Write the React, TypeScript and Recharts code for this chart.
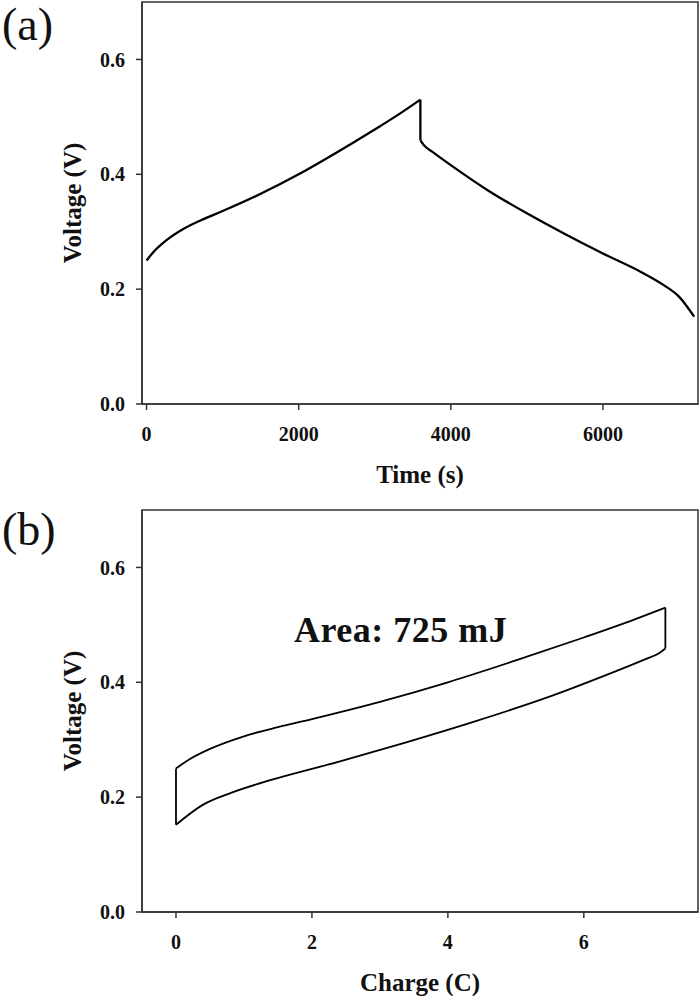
import React from "react";
import {
  LineChart,
  Line,
  XAxis,
  YAxis,
  ReferenceArea,
} from "recharts";

// (a) galvanostatic charge / discharge
const chargeTime = [0, 100, 250, 500, 750, 1000, 1500, 2000, 2500, 3000, 3300, 3600];
const chargeVolt = [0.25, 0.266, 0.284, 0.306, 0.322, 0.336, 0.366, 0.4, 0.438, 0.478, 0.503, 0.53];
const dischargeTime = [3600, 3650, 3750, 4000, 4500, 5000, 5500, 6000, 6500, 6800, 7000, 7200];
const dischargeVolt = [0.459, 0.45, 0.44, 0.416, 0.371, 0.332, 0.296, 0.262, 0.23, 0.207, 0.187, 0.152];

// (b) voltage vs charge loop (both branches listed by increasing charge)
const upperCharge = [0, 0.2, 0.5, 1.0, 1.5, 2.0, 3.0, 4.0, 5.0, 6.0, 6.6, 7.2];
const upperVolt = [0.25, 0.266, 0.284, 0.306, 0.322, 0.336, 0.366, 0.4, 0.438, 0.478, 0.503, 0.53];
const lowerCharge = [0, 0.4, 0.8, 1.4, 2.4, 3.4, 4.4, 5.4, 6.4, 6.9, 7.1, 7.2];
const lowerVolt = [0.152, 0.187, 0.207, 0.23, 0.262, 0.296, 0.332, 0.371, 0.416, 0.44, 0.45, 0.459];

const voltTicks = [0, 0.2, 0.4, 0.6];
const timeTicks = [0, 2000, 4000, 6000];
const chargeTicks = [0, 2, 4, 6];

const timeDomain: [number, number] = [-60, 7250];
const chargeDomain: [number, number] = [-0.5, 7.68];
const voltDomain: [number, number] = [0, 0.7];

const pairs = (xs: number[], ys: number[]) => xs.map((x, i) => ({ x, v: ys[i] }));

const chargeA = pairs(chargeTime, chargeVolt);
const dischargeA = pairs(dischargeTime, dischargeVolt);
const dropA = [chargeA[chargeA.length - 1], dischargeA[0]];

const upperB = pairs(upperCharge, upperVolt);
const lowerB = pairs(lowerCharge, lowerVolt);
const rightEdgeB = [upperB[upperB.length - 1], lowerB[lowerB.length - 1]];
const leftEdgeB = [lowerB[0], upperB[0]];

const serif = "'Liberation Serif', 'Times New Roman', serif";
const axisColor = "#333";
const tickStyle = { fontFamily: serif, fontWeight: "bold", fontSize: 20, fill: "#111" };
const titleStyle = { fontFamily: serif, fontWeight: "bold", fontSize: 25, fill: "#111" };

const panelTag: React.CSSProperties = {
  position: "absolute",
  left: 2,
  fontFamily: serif,
  fontSize: 46,
  lineHeight: 1,
  color: "#111",
};

const Frame = ({ xd }: { xd: [number, number] }) => (
  <ReferenceArea
    x1={xd[0]}
    x2={xd[1]}
    y1={voltDomain[0]}
    y2={voltDomain[1]}
    fill="none"
    stroke={axisColor}
    strokeWidth={1.5}
    ifOverflow="visible"
  />
);

const App: React.FC = () => {
  return (
    <div style={{ position: "absolute", left: 0, top: 0, width: 700, height: 996, background: "#fff" }}>
      <div style={{ position: "absolute", left: 0, top: 0 }}>
        <LineChart width={700} height={500} margin={{ top: 2, right: 2, bottom: 0, left: 0 }}>
          <ReferenceArea
            x1={timeDomain[0]}
            x2={timeDomain[1]}
            y1={voltDomain[0]}
            y2={voltDomain[1]}
            fill="none"
            stroke={axisColor}
            strokeWidth={1.5}
            ifOverflow="visible"
          />
          <XAxis
            type="number"
            dataKey="x"
            domain={timeDomain}
            allowDataOverflow
            ticks={timeTicks}
            height={96}
            tickSize={6}
            tickMargin={17}
            stroke={axisColor}
            strokeWidth={1.5}
            tick={tickStyle}
            label={{ value: "Time (s)", position: "center", dy: 22, style: titleStyle }}
          />
          <YAxis
            type="number"
            dataKey="v"
            domain={voltDomain}
            allowDataOverflow
            ticks={voltTicks}
            tickFormatter={(v: number) => v.toFixed(1)}
            width={142}
            tickSize={6}
            tickMargin={11}
            stroke={axisColor}
            strokeWidth={1.5}
            tick={tickStyle}
            label={{ value: "Voltage (V)", angle: -90, position: "center", dx: 1, style: titleStyle }}
          />
          <Line data={chargeA} type="monotone" dataKey="v" stroke="#000" strokeWidth={2.3} dot={false} isAnimationActive={false} />
          <Line data={dropA} type="linear" dataKey="v" stroke="#000" strokeWidth={2.3} dot={false} isAnimationActive={false} />
          <Line data={dischargeA} type="monotone" dataKey="v" stroke="#000" strokeWidth={2.3} dot={false} isAnimationActive={false} />
        </LineChart>
      </div>

      <div style={{ position: "absolute", left: 0, top: 500 }}>
        <LineChart width={700} height={496} margin={{ top: 10, right: 2, bottom: 0, left: 0 }}>
          <ReferenceArea
            x1={chargeDomain[0]}
            x2={chargeDomain[1]}
            y1={voltDomain[0]}
            y2={voltDomain[1]}
            fill="none"
            stroke={axisColor}
            strokeWidth={1.5}
            ifOverflow="visible"
          />
          <XAxis
            type="number"
            dataKey="x"
            domain={chargeDomain}
            allowDataOverflow
            ticks={chargeTicks}
            height={84}
            tickSize={6}
            tickMargin={17}
            stroke={axisColor}
            strokeWidth={1.5}
            tick={tickStyle}
            label={{ value: "Charge (C)", position: "center", dy: 28, style: titleStyle }}
          />
          <YAxis
            type="number"
            dataKey="v"
            domain={voltDomain}
            allowDataOverflow
            ticks={voltTicks}
            tickFormatter={(v: number) => v.toFixed(1)}
            width={142}
            tickSize={6}
            tickMargin={11}
            stroke={axisColor}
            strokeWidth={1.5}
            tick={tickStyle}
            label={{ value: "Voltage (V)", angle: -90, position: "center", dx: 1, style: titleStyle }}
          />
          <Line data={upperB} type="monotone" dataKey="v" stroke="#000" strokeWidth={1.8} dot={false} isAnimationActive={false} />
          <Line data={rightEdgeB} type="linear" dataKey="v" stroke="#000" strokeWidth={1.8} dot={false} isAnimationActive={false} />
          <Line data={lowerB} type="monotone" dataKey="v" stroke="#000" strokeWidth={1.8} dot={false} isAnimationActive={false} />
          <Line data={leftEdgeB} type="linear" dataKey="v" stroke="#000" strokeWidth={1.8} dot={false} isAnimationActive={false} />
        </LineChart>
      </div>

      <div style={{ ...panelTag, top: 2 }}>(a)</div>
      <div style={{ ...panelTag, top: 507 }}>(b)</div>
      <div
        style={{
          position: "absolute",
          left: 294,
          top: 612,
          fontFamily: serif,
          fontWeight: "bold",
          fontSize: 36,
          letterSpacing: 0.5,
          lineHeight: 1,
          color: "#111",
          whiteSpace: "nowrap",
        }}
      >
        Area: 725 mJ
      </div>
    </div>
  );
};

export default App;
